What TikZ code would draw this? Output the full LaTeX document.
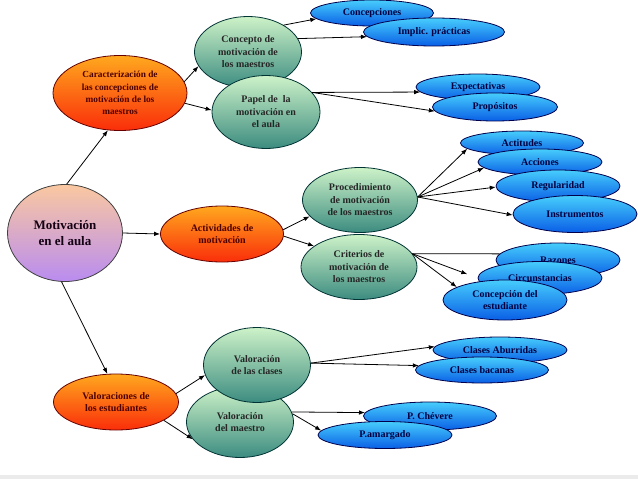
\documentclass[tikz,border=0pt]{standalone}
\usepackage{fontspec}
\setmainfont{Liberation Serif}
\usetikzlibrary{shapes.geometric,arrows.meta}

\definecolor{orTop}{RGB}{255,168,30}
\definecolor{orBot}{RGB}{250,45,10}
\definecolor{grTop}{RGB}{205,242,200}
\definecolor{grBot}{RGB}{60,140,128}
\definecolor{blTop}{RGB}{70,205,252}
\definecolor{blBot}{RGB}{10,95,230}
\definecolor{mtTop}{RGB}{250,200,160}
\definecolor{mtBot}{RGB}{185,140,240}

\begin{document}
\begin{tikzpicture}[x=1pt,y=-1pt,
  font=\bfseries\fontsize{10}{12.5}\selectfont,
  core/.style={ellipse,draw=black!75,line width=0.8pt,top color=mtTop,bottom color=mtBot,text=black!85!violet,align=center,inner sep=0pt,font=\bfseries\fontsize{13}{16}\selectfont},
  topic/.style={ellipse,draw=red!40!black,line width=0.8pt,top color=orTop,bottom color=orBot,text=red!30!black,align=center,inner sep=0pt},
  sub/.style={ellipse,draw=teal!40!black,line width=0.8pt,top color=grTop,bottom color=grBot,text=black!85,align=center,inner sep=0pt},
  leaf/.style={ellipse,draw=blue!30!black,line width=0.8pt,top color=blTop,bottom color=blBot,text=blue!25!black,align=center,inner sep=0pt},
  link/.style={-{Latex[length=6pt,width=4.5pt]},line width=0.8pt,black}
]
\useasboundingbox (0,0) rectangle (638,479);
\fill[white] (0,0) rectangle (638,475);
\fill[blue!6!black!8] (0,475) rectangle (638,479);

\node[core,minimum width=115pt,minimum height=97pt] (mot) at (65,233) {Motivación\\en el aula};

\node[topic,minimum width=134pt,minimum height=75pt,font=\bfseries\fontsize{9.3}{12.3}\selectfont] (car) at (120,93) {Caracterización de\\las concepciones de\\motivación de los\\maestros};
\node[topic,minimum width=123pt,minimum height=56pt] (act) at (222,234) {Actividades de\\motivación};
\node[topic,minimum width=125pt,minimum height=56pt] (val) at (116,402) {Valoraciones de\\los estudiantes};

\node[sub,minimum width=107pt,minimum height=71pt] (con) at (248,52) {Concepto de\\motivación de\\los maestros};
\node[sub,minimum width=108pt,minimum height=73pt] (pap) at (266,112) {Papel de~ la\\motivación en\\el aula};
\node[sub,minimum width=115pt,minimum height=65pt] (pro) at (360,200) {Procedimiento\\de motivación\\de los maestros};
\node[sub,minimum width=116pt,minimum height=65pt] (cri) at (359,267) {Criterios de\\motivación de\\los maestros};
\node[sub,minimum width=107pt,minimum height=71pt] (vma) at (240,422) {Valoración\\del maestro};
\node[sub,minimum width=107pt,minimum height=75pt] (vcl) at (257,365) {Valoración\\de las clases};

\node[leaf,minimum width=123pt,minimum height=26pt] (b1) at (372,13) {Concepciones};
\node[leaf,minimum width=141pt,minimum height=28pt] (b2) at (434,32) {Implic. prácticas};
\node[leaf,minimum width=124pt,minimum height=26pt] (b3) at (478,87) {Expectativas};
\node[leaf,minimum width=125pt,minimum height=28pt] (b4) at (495,107) {Propósitos};
\node[leaf,minimum width=123pt,minimum height=24pt] (b5) at (522,143) {Actitudes};
\node[leaf,minimum width=124pt,minimum height=26pt] (b6) at (540,162) {Acciones};
\node[leaf,minimum width=124pt,minimum height=32pt] (b7) at (558,186) {Regularidad};
\node[leaf,minimum width=124pt,minimum height=37pt] (b8) at (575,214) {Instrumentos};
\node[leaf,minimum width=124pt,minimum height=34pt] (b9) at (558,260) {Razones};
\node[leaf,minimum width=124pt,minimum height=33pt] (b10) at (540,278) {Circunstancias};
\node[leaf,minimum width=124pt,minimum height=40pt] (b11) at (505,300) {Concepción del\\estudiante};
\node[leaf,minimum width=134pt,minimum height=26pt] (b12) at (500,350) {Clases Aburridas};
\node[leaf,minimum width=133pt,minimum height=26pt] (b13) at (482,370) {Clases bacanas};
\node[leaf,minimum width=133pt,minimum height=28pt] (b14) at (430,416) {P. Chévere};
\node[leaf,minimum width=134pt,minimum height=27pt] (b15) at (385,435) {P.amargado};

\draw[link] (mot.88) -- (car.252);
\draw[link] (mot.0) -- (act.180);
\draw[link] (mot.266) -- (val.107);
\draw[link] (car.10) -- (con.196);
\draw[link] (car.351) -- (pap.178);
\draw[link] (con.37) -- (b1.186);
\draw[link] (con.15) -- (b2.184);
\draw[link] (pap.23) -- (b3.185);
\draw[link] (pap.23) -- (b4.184);
\draw[link] (act.4) -- (pro.198);
\draw[link] (act.358) -- (cri.155);
\draw[link] (pro.3) -- (b5.186);
\draw[link] (pro.3) -- (b6.186);
\draw[link] (pro.3) -- (b7.181);
\draw[link] (pro.3) -- (b8.181);
\draw[line width=0.8pt] (cri.14) -- (b9.174);
\draw[link,shorten >=11pt] (cri.14) -- (b10.west);
\draw[link] (cri.14) -- (b11.165);
\draw[link] (val.8) -- (vcl.191);
\draw[link] (val.339) -- (vma.200);
\draw[link] (vcl.2) -- (b12.177);
\draw[link] (vcl.2) -- (b13.176);
\draw[link] (vma.11) -- (b14.177);
\draw[link] (vma.9) -- (b15.176);
\end{tikzpicture}
\end{document}
